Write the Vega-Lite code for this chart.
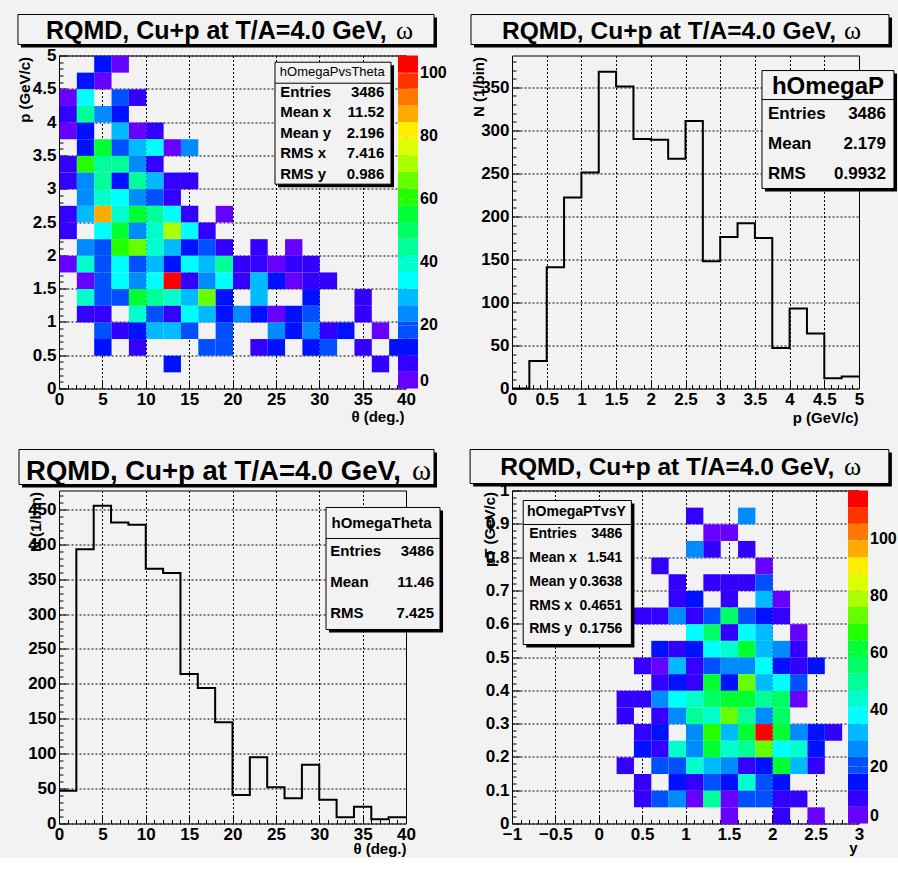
{
  "$schema": "https://vega.github.io/schema/vega-lite/v6.json",
  "background": "#f2f2f2",
  "padding": {"left": 16, "top": 12.5, "right": 0, "bottom": 0},
  "columns": 2,
  "spacing": {"row": 102, "column": 106},
  "bounds": "flush",
  "resolve": {"scale": {"color": "independent"}, "legend": {"color": "independent"}},
  "datasets": {
    "tl": [
      {"th":4,"pp":4.75,"c":13},{"th":6,"pp":4.75,"c":3},
      {"th":2,"pp":4.5,"c":13},{"th":4,"pp":4.5,"c":3},
      {"th":0,"pp":4.25,"c":3},{"th":2,"pp":4.25,"c":34},{"th":6,"pp":4.25,"c":18},{"th":8,"pp":4.25,"c":8},
      {"th":0,"pp":4,"c":8},{"th":2,"pp":4,"c":45},{"th":4,"pp":4,"c":24},{"th":6,"pp":4,"c":13},
      {"th":0,"pp":3.75,"c":3},{"th":2,"pp":3.75,"c":13},{"th":6,"pp":3.75,"c":29},{"th":8,"pp":3.75,"c":3},{"th":10,"pp":3.75,"c":8},
      {"th":2,"pp":3.5,"c":13},{"th":4,"pp":3.5,"c":55},{"th":6,"pp":3.5,"c":18},{"th":8,"pp":3.5,"c":29},{"th":10,"pp":3.5,"c":34},{"th":12,"pp":3.5,"c":3},{"th":14,"pp":3.5,"c":24},
      {"th":0,"pp":3.25,"c":8},{"th":2,"pp":3.25,"c":61},{"th":4,"pp":3.25,"c":45},{"th":6,"pp":3.25,"c":45},{"th":8,"pp":3.25,"c":24},{"th":10,"pp":3.25,"c":8},
      {"th":0,"pp":3,"c":8},{"th":2,"pp":3,"c":24},{"th":4,"pp":3,"c":45},{"th":6,"pp":3,"c":13},{"th":8,"pp":3,"c":45},{"th":10,"pp":3,"c":29},{"th":12,"pp":3,"c":8},{"th":14,"pp":3,"c":8},
      {"th":2,"pp":2.75,"c":24},{"th":4,"pp":2.75,"c":40},{"th":6,"pp":2.75,"c":34},{"th":8,"pp":2.75,"c":24},{"th":10,"pp":2.75,"c":18},{"th":12,"pp":2.75,"c":8},
      {"th":0,"pp":2.5,"c":8},{"th":2,"pp":2.5,"c":29},{"th":4,"pp":2.5,"c":87},{"th":6,"pp":2.5,"c":40},{"th":8,"pp":2.5,"c":55},{"th":10,"pp":2.5,"c":45},{"th":12,"pp":2.5,"c":34},{"th":14,"pp":2.5,"c":8},{"th":18,"pp":2.5,"c":3},
      {"th":0,"pp":2.25,"c":8},{"th":4,"pp":2.25,"c":34},{"th":6,"pp":2.25,"c":55},{"th":8,"pp":2.25,"c":24},{"th":10,"pp":2.25,"c":40},{"th":12,"pp":2.25,"c":71},{"th":14,"pp":2.25,"c":34},{"th":16,"pp":2.25,"c":8},
      {"th":2,"pp":2,"c":24},{"th":4,"pp":2,"c":18},{"th":6,"pp":2,"c":61},{"th":8,"pp":2,"c":66},{"th":10,"pp":2,"c":40},{"th":12,"pp":2,"c":29},{"th":14,"pp":2,"c":13},{"th":16,"pp":2,"c":18},{"th":18,"pp":2,"c":8},{"th":22,"pp":2,"c":8},{"th":26,"pp":2,"c":3},
      {"th":0,"pp":1.75,"c":3},{"th":2,"pp":1.75,"c":40},{"th":4,"pp":1.75,"c":18},{"th":6,"pp":1.75,"c":34},{"th":8,"pp":1.75,"c":18},{"th":10,"pp":1.75,"c":29},{"th":12,"pp":1.75,"c":13},{"th":14,"pp":1.75,"c":34},{"th":16,"pp":1.75,"c":29},{"th":18,"pp":1.75,"c":45},{"th":20,"pp":1.75,"c":8},{"th":22,"pp":1.75,"c":8},{"th":24,"pp":1.75,"c":3},{"th":26,"pp":1.75,"c":8},{"th":28,"pp":1.75,"c":8},
      {"th":2,"pp":1.5,"c":3},{"th":4,"pp":1.5,"c":18},{"th":6,"pp":1.5,"c":34},{"th":8,"pp":1.5,"c":24},{"th":10,"pp":1.5,"c":34},{"th":12,"pp":1.5,"c":105},{"th":14,"pp":1.5,"c":8},{"th":16,"pp":1.5,"c":24},{"th":18,"pp":1.5,"c":34},{"th":20,"pp":1.5,"c":8},{"th":22,"pp":1.5,"c":29},{"th":24,"pp":1.5,"c":13},{"th":26,"pp":1.5,"c":3},{"th":28,"pp":1.5,"c":8},{"th":30,"pp":1.5,"c":8},
      {"th":2,"pp":1.25,"c":40},{"th":4,"pp":1.25,"c":18},{"th":6,"pp":1.25,"c":18},{"th":8,"pp":1.25,"c":55},{"th":10,"pp":1.25,"c":45},{"th":12,"pp":1.25,"c":40},{"th":14,"pp":1.25,"c":29},{"th":16,"pp":1.25,"c":66},{"th":18,"pp":1.25,"c":13},{"th":22,"pp":1.25,"c":29},{"th":28,"pp":1.25,"c":13},{"th":34,"pp":1.25,"c":8},
      {"th":2,"pp":1,"c":8},{"th":4,"pp":1,"c":8},{"th":8,"pp":1,"c":40},{"th":10,"pp":1,"c":18},{"th":12,"pp":1,"c":8},{"th":14,"pp":1,"c":34},{"th":16,"pp":1,"c":29},{"th":18,"pp":1,"c":13},{"th":20,"pp":1,"c":24},{"th":22,"pp":1,"c":13},{"th":24,"pp":1,"c":3},{"th":26,"pp":1,"c":13},{"th":28,"pp":1,"c":18},{"th":34,"pp":1,"c":8},
      {"th":4,"pp":0.75,"c":18},{"th":6,"pp":0.75,"c":8},{"th":8,"pp":0.75,"c":13},{"th":10,"pp":0.75,"c":29},{"th":12,"pp":0.75,"c":29},{"th":14,"pp":0.75,"c":18},{"th":18,"pp":0.75,"c":18},{"th":24,"pp":0.75,"c":24},{"th":26,"pp":0.75,"c":13},{"th":28,"pp":0.75,"c":24},{"th":30,"pp":0.75,"c":8},{"th":32,"pp":0.75,"c":13},{"th":36,"pp":0.75,"c":3},
      {"th":4,"pp":0.5,"c":13},{"th":8,"pp":0.5,"c":8},{"th":16,"pp":0.5,"c":18},{"th":18,"pp":0.5,"c":18},{"th":22,"pp":0.5,"c":8},{"th":24,"pp":0.5,"c":13},{"th":28,"pp":0.5,"c":13},{"th":30,"pp":0.5,"c":18},{"th":34,"pp":0.5,"c":8},{"th":38,"pp":0.5,"c":13},
      {"th":12,"pp":0.25,"c":13},{"th":36,"pp":0.25,"c":8}
    ],
    "tr": [
      {"pm":0,"cnt":0},{"pm":0.25,"cnt":32},{"pm":0.5,"cnt":141},{"pm":0.75,"cnt":222},{"pm":1,"cnt":251},{"pm":1.25,"cnt":368},{"pm":1.5,"cnt":351},{"pm":1.75,"cnt":290},{"pm":2,"cnt":289},{"pm":2.25,"cnt":267},{"pm":2.5,"cnt":311},{"pm":2.75,"cnt":148},{"pm":3,"cnt":176},{"pm":3.25,"cnt":192},{"pm":3.5,"cnt":175},{"pm":3.75,"cnt":47},{"pm":4,"cnt":93},{"pm":4.25,"cnt":64},{"pm":4.5,"cnt":12},{"pm":4.75,"cnt":14},{"pm":5,"cnt":14}
    ],
    "bl": [
      {"tt":0,"cnt":47},{"tt":2,"cnt":393},{"tt":4,"cnt":455},{"tt":6,"cnt":431},{"tt":8,"cnt":428},{"tt":10,"cnt":365},{"tt":12,"cnt":359},{"tt":14,"cnt":214},{"tt":16,"cnt":194},{"tt":18,"cnt":145},{"tt":20,"cnt":41},{"tt":22,"cnt":95},{"tt":24,"cnt":52},{"tt":26,"cnt":36},{"tt":28,"cnt":84},{"tt":30,"cnt":34},{"tt":32,"cnt":9},{"tt":34,"cnt":24},{"tt":36,"cnt":6},{"tt":38,"cnt":9},{"tt":40,"cnt":9}
    ],
    "br": [
      {"rap":1.0,"pt":0.9,"c2":9},{"rap":1.6,"pt":0.9,"c2":26},
      {"rap":1.2,"pt":0.85,"c2":3},{"rap":1.4,"pt":0.85,"c2":3},
      {"rap":1.0,"pt":0.8,"c2":26},{"rap":1.2,"pt":0.8,"c2":9},{"rap":1.6,"pt":0.8,"c2":9},
      {"rap":0.6,"pt":0.75,"c2":9},{"rap":1.8,"pt":0.75,"c2":3},
      {"rap":0.8,"pt":0.7,"c2":9},{"rap":1.2,"pt":0.7,"c2":9},{"rap":1.4,"pt":0.7,"c2":9},{"rap":1.6,"pt":0.7,"c2":9},{"rap":1.8,"pt":0.7,"c2":20},
      {"rap":0.8,"pt":0.65,"c2":9},{"rap":1.0,"pt":0.65,"c2":15},{"rap":1.4,"pt":0.65,"c2":9},{"rap":1.8,"pt":0.65,"c2":32},{"rap":2.0,"pt":0.65,"c2":3},
      {"rap":0.4,"pt":0.6,"c2":9},{"rap":0.6,"pt":0.6,"c2":9},{"rap":0.8,"pt":0.6,"c2":26},{"rap":1.0,"pt":0.6,"c2":9},{"rap":1.2,"pt":0.6,"c2":20},{"rap":1.4,"pt":0.6,"c2":56},{"rap":1.6,"pt":0.6,"c2":20},{"rap":1.8,"pt":0.6,"c2":15},{"rap":2.0,"pt":0.6,"c2":9},
      {"rap":1.0,"pt":0.55,"c2":38},{"rap":1.2,"pt":0.55,"c2":56},{"rap":1.4,"pt":0.55,"c2":9},{"rap":1.6,"pt":0.55,"c2":38},{"rap":1.8,"pt":0.55,"c2":32},{"rap":2.2,"pt":0.55,"c2":3},
      {"rap":0.6,"pt":0.5,"c2":15},{"rap":0.8,"pt":0.5,"c2":9},{"rap":1.0,"pt":0.5,"c2":15},{"rap":1.2,"pt":0.5,"c2":38},{"rap":1.4,"pt":0.5,"c2":44},{"rap":1.6,"pt":0.5,"c2":61},{"rap":1.8,"pt":0.5,"c2":32},{"rap":2.0,"pt":0.5,"c2":26},{"rap":2.2,"pt":0.5,"c2":9},
      {"rap":0.4,"pt":0.45,"c2":9},{"rap":0.6,"pt":0.45,"c2":3},{"rap":0.8,"pt":0.45,"c2":32},{"rap":1.0,"pt":0.45,"c2":9},{"rap":1.2,"pt":0.45,"c2":20},{"rap":1.4,"pt":0.45,"c2":26},{"rap":1.6,"pt":0.45,"c2":26},{"rap":1.8,"pt":0.45,"c2":38},{"rap":2.0,"pt":0.45,"c2":15},{"rap":2.2,"pt":0.45,"c2":9},{"rap":2.4,"pt":0.45,"c2":15},
      {"rap":0.6,"pt":0.4,"c2":9},{"rap":0.8,"pt":0.4,"c2":15},{"rap":1.0,"pt":0.4,"c2":9},{"rap":1.2,"pt":0.4,"c2":61},{"rap":1.4,"pt":0.4,"c2":15},{"rap":1.6,"pt":0.4,"c2":73},{"rap":1.8,"pt":0.4,"c2":32},{"rap":2.0,"pt":0.4,"c2":38},{"rap":2.2,"pt":0.4,"c2":20},
      {"rap":0.2,"pt":0.35,"c2":9},{"rap":0.4,"pt":0.35,"c2":9},{"rap":0.6,"pt":0.35,"c2":26},{"rap":0.8,"pt":0.35,"c2":38},{"rap":1.0,"pt":0.35,"c2":44},{"rap":1.2,"pt":0.35,"c2":56},{"rap":1.4,"pt":0.35,"c2":61},{"rap":1.6,"pt":0.35,"c2":61},{"rap":1.8,"pt":0.35,"c2":50},{"rap":2.0,"pt":0.35,"c2":56},{"rap":2.2,"pt":0.35,"c2":3},
      {"rap":0.2,"pt":0.3,"c2":9},{"rap":0.6,"pt":0.3,"c2":9},{"rap":0.8,"pt":0.3,"c2":26},{"rap":1.0,"pt":0.3,"c2":50},{"rap":1.2,"pt":0.3,"c2":44},{"rap":1.4,"pt":0.3,"c2":73},{"rap":1.6,"pt":0.3,"c2":50},{"rap":1.8,"pt":0.3,"c2":26},{"rap":2.0,"pt":0.3,"c2":56},
      {"rap":0.4,"pt":0.25,"c2":9},{"rap":0.6,"pt":0.25,"c2":15},{"rap":1.0,"pt":0.25,"c2":26},{"rap":1.2,"pt":0.25,"c2":67},{"rap":1.4,"pt":0.25,"c2":32},{"rap":1.6,"pt":0.25,"c2":61},{"rap":1.8,"pt":0.25,"c2":115},{"rap":2.0,"pt":0.25,"c2":61},{"rap":2.2,"pt":0.25,"c2":26},{"rap":2.4,"pt":0.25,"c2":15},{"rap":2.6,"pt":0.25,"c2":9},
      {"rap":0.4,"pt":0.2,"c2":15},{"rap":0.6,"pt":0.2,"c2":9},{"rap":0.8,"pt":0.2,"c2":44},{"rap":1.0,"pt":0.2,"c2":26},{"rap":1.2,"pt":0.2,"c2":61},{"rap":1.4,"pt":0.2,"c2":44},{"rap":1.6,"pt":0.2,"c2":50},{"rap":1.8,"pt":0.2,"c2":73},{"rap":2.0,"pt":0.2,"c2":38},{"rap":2.2,"pt":0.2,"c2":44},{"rap":2.4,"pt":0.2,"c2":15},
      {"rap":0.2,"pt":0.15,"c2":9},{"rap":0.6,"pt":0.15,"c2":20},{"rap":0.8,"pt":0.15,"c2":20},{"rap":1.0,"pt":0.15,"c2":44},{"rap":1.2,"pt":0.15,"c2":32},{"rap":1.4,"pt":0.15,"c2":26},{"rap":1.6,"pt":0.15,"c2":9},{"rap":1.8,"pt":0.15,"c2":15},{"rap":2.0,"pt":0.15,"c2":61},{"rap":2.2,"pt":0.15,"c2":32},{"rap":2.4,"pt":0.15,"c2":9},
      {"rap":0.4,"pt":0.1,"c2":9},{"rap":0.8,"pt":0.1,"c2":15},{"rap":1.0,"pt":0.1,"c2":9},{"rap":1.2,"pt":0.1,"c2":20},{"rap":1.4,"pt":0.1,"c2":15},{"rap":1.6,"pt":0.1,"c2":44},{"rap":1.8,"pt":0.1,"c2":20},{"rap":2.0,"pt":0.1,"c2":15},
      {"rap":0.4,"pt":0.05,"c2":9},{"rap":0.6,"pt":0.05,"c2":20},{"rap":0.8,"pt":0.05,"c2":26},{"rap":1.0,"pt":0.05,"c2":3},{"rap":1.2,"pt":0.05,"c2":50},{"rap":1.4,"pt":0.05,"c2":3},{"rap":1.6,"pt":0.05,"c2":20},{"rap":1.8,"pt":0.05,"c2":20},{"rap":2.0,"pt":0.05,"c2":9},{"rap":2.2,"pt":0.05,"c2":9},
      {"rap":1.4,"pt":0,"c2":3},{"rap":2.0,"pt":0,"c2":9},{"rap":2.4,"pt":0,"c2":3}
    ]
  },
  "concat": [
    {
      "width": 347, "height": 333,
      "layer": [
        {
          "data": {"name": "tl"},
          "mark": {"type": "rect"},
          "encoding": {
            "x": {"field": "th", "type": "quantitative", "bin": {"binned": true, "step": 2}, "title": "θ (deg.)",
              "scale": {"domain": [0, 40], "nice": false, "zero": false},
              "axis": {"values": [0,1,2,3,4,5,6,7,8,9,10,11,12,13,14,15,16,17,18,19,20,21,22,23,24,25,26,27,28,29,30,31,32,33,34,35,36,37,38,39,40],
                "tickCount": 500, "labelOverlap": false, "zindex": 0,
                "labelExpr": "datum.value % 5 === 0 ? format(datum.value, '~g') : ''",
                "tickSize": {"condition": {"test": "datum.value % 5 === 0", "value": -8}, "value": -4},
                "gridOpacity": {"condition": {"test": "datum.value % 5 === 0", "value": 1}, "value": 0},
                "labelPadding": 11, "titleX": 345, "titleY": 33}},
            "y": {"field": "pp", "type": "quantitative", "bin": {"binned": true, "step": 0.25}, "title": "p (GeV/c)",
              "scale": {"domain": [0, 5], "nice": false, "zero": false},
              "axis": {"values": [0,0.1,0.2,0.3,0.4,0.5,0.6,0.7,0.8,0.9,1,1.1,1.2,1.3,1.4,1.5,1.6,1.7,1.8,1.9,2,2.1,2.2,2.3,2.4,2.5,2.6,2.7,2.8,2.9,3,3.1,3.2,3.3,3.4,3.5,3.6,3.7,3.8,3.9,4,4.1,4.2,4.3,4.4,4.5,4.6,4.7,4.8,4.9,5],
                "tickCount": 500, "labelOverlap": false, "zindex": 0,
                "labelExpr": "abs(datum.value*2-round(datum.value*2)) < 1e-6 ? format(datum.value, '~g') : ''",
                "tickSize": {"condition": {"test": "abs(datum.value*2-round(datum.value*2)) < 1e-6", "value": -8}, "value": -4},
                "gridOpacity": {"condition": {"test": "abs(datum.value*2-round(datum.value*2)) < 1e-6", "value": 1}, "value": 0},
                "labelPadding": 11, "titleX": -29.5, "titleY": 1, "titleAngle": 270}},
            "color": {"field": "c", "type": "quantitative",
              "scale": {"type": "quantize", "domain": [0, 105.7], "nice": false, "zero": false,
                "range": ["#6600ff","#3300ff","#0011ff","#0050ff","#008cff","#00bbff","#00ffff","#00ffcc","#00ff99","#00ff66","#00ff33","#22ff00","#66ff00","#aaff00","#ddff00","#ffee00","#ffaa00","#ff7700","#ff3300","#ff0000"]},
              "legend": {"type": "gradient",
                "values": [-0.001,0,5.295,10.58,15.865,20,21.15,26.435,31.72,37.005,40,42.29,47.575,52.86,58.145,60,63.43,68.715,74.0,79.285,80,84.57,89.855,95.14,100,100.425],
                "labelExpr": "datum.value >= 0 && datum.value % 20 === 0 ? format(datum.value, 'd') : ''",
                "labelOverlap": false,
                "title": null, "orient": "right", "offset": -8, "padding": 0,
                "gradientLength": 333, "gradientThickness": 20, "gradientStrokeWidth": 0, "labelOffset": 2}}
          }
        },
        {"data": {"values": [{}]}, "mark": {"type": "rect", "fill": "#000000"},
          "encoding": {"x": {"datum": 25.25}, "x2": {"datum": 38.62}, "y": {"datum": 4.854}, "y2": {"datum": 3.023}}},
        {"data": {"values": [{}]}, "mark": {"type": "rect", "fill": "#f2f2f2", "stroke": "#000000", "strokeWidth": 1},
          "encoding": {"x": {"datum": 24.9}, "x2": {"datum": 38.27}, "y": {"datum": 4.899}, "y2": {"datum": 3.068}}},
        {"data": {"values": [{}]}, "mark": {"type": "rule", "color": "#000000", "strokeWidth": 1},
          "encoding": {"x": {"datum": 24.9}, "x2": {"datum": 38.27}, "y": {"datum": 4.584}}},
        {"data": {"values": [{}]}, "mark": {"type": "text", "text": "hOmegaPvsTheta", "align": "center", "baseline": "alphabetic", "fontSize": 13, "fontWeight": "normal"},
          "encoding": {"x": {"datum": 31.5}, "y": {"datum": 4.695}}},
        {"data": {"values": [{}]}, "mark": {"type": "text", "text": ["Entries", "Mean x", "Mean y", "RMS x", "RMS y"], "align": "left", "baseline": "alphabetic", "fontSize": 15, "fontWeight": "bold", "lineHeight": 20.6},
          "encoding": {"x": {"datum": 25.5}, "y": {"datum": 4.384}}},
        {"data": {"values": [{}]}, "mark": {"type": "text", "text": ["3486", "11.52", "2.196", "7.416", "0.986"], "align": "right", "baseline": "alphabetic", "fontSize": 15, "fontWeight": "bold", "lineHeight": 20.6},
          "encoding": {"x": {"datum": 37.5}, "y": {"datum": 4.384}}},
        {"data": {"values": [{}]}, "mark": {"type": "rect", "fill": "#000000"},
          "encoding": {"x": {"datum": -4.38}, "x2": {"datum": 43.57}, "y": {"datum": 5.571}, "y2": {"datum": 5.12}}},
        {"data": {"values": [{}]}, "mark": {"type": "rect", "fill": "#f2f2f2", "stroke": "#000000", "strokeWidth": 1},
          "encoding": {"x": {"datum": -4.73}, "x2": {"datum": 43.23}, "y": {"datum": 5.616}, "y2": {"datum": 5.165}}},
        {"data": {"values": [{}]}, "mark": {"type": "text", "text": "RQMD, Cu+p at T/A=4.0 GeV,", "align": "left", "baseline": "alphabetic", "fontSize": 25, "fontWeight": "bold"},
          "encoding": {"x": {"datum": -1.5}, "y": {"datum": 5.251}}},
        {"data": {"values": [{}]}, "mark": {"type": "text", "text": "ω", "align": "left", "baseline": "alphabetic", "fontSize": 26, "fontWeight": "normal", "font": "Liberation Serif"},
          "encoding": {"x": {"datum": 38.85}, "y": {"datum": 5.251}}}
      ]
    },
    {
      "width": 347, "height": 333,
      "layer": [
        {
          "data": {"name": "tr"},
          "mark": {"type": "line", "interpolate": "step-after", "color": "#000000", "strokeWidth": 2},
          "encoding": {
            "x": {"field": "pm", "type": "quantitative", "title": "p (GeV/c)",
              "scale": {"domain": [0, 5], "nice": false, "zero": false},
              "axis": {"values": [0,0.1,0.2,0.3,0.4,0.5,0.6,0.7,0.8,0.9,1,1.1,1.2,1.3,1.4,1.5,1.6,1.7,1.8,1.9,2,2.1,2.2,2.3,2.4,2.5,2.6,2.7,2.8,2.9,3,3.1,3.2,3.3,3.4,3.5,3.6,3.7,3.8,3.9,4,4.1,4.2,4.3,4.4,4.5,4.6,4.7,4.8,4.9,5],
                "tickCount": 500, "labelOverlap": false, "zindex": 0,
                "labelExpr": "abs(datum.value*2-round(datum.value*2)) < 1e-6 ? format(datum.value, '~g') : ''",
                "tickSize": {"condition": {"test": "abs(datum.value*2-round(datum.value*2)) < 1e-6", "value": -8}, "value": -4},
                "gridOpacity": {"condition": {"test": "abs(datum.value*2-round(datum.value*2)) < 1e-6", "value": 1}, "value": 0},
                "labelPadding": 11, "titleX": 346, "titleY": 34}},
            "y": {"field": "cnt", "type": "quantitative", "title": "N (1/bin)",
              "scale": {"domain": [0, 387], "nice": false, "zero": false},
              "axis": {"values": [0,10,20,30,40,50,60,70,80,90,100,110,120,130,140,150,160,170,180,190,200,210,220,230,240,250,260,270,280,290,300,310,320,330,340,350,360,370,380],
                "tickCount": 500, "labelOverlap": false, "zindex": 0,
                "labelExpr": "datum.value % 50 === 0 ? format(datum.value, '~g') : ''",
                "tickSize": {"condition": {"test": "datum.value % 50 === 0", "value": -8}, "value": -4},
                "gridOpacity": {"condition": {"test": "datum.value % 50 === 0", "value": 1}, "value": 0},
                "labelPadding": 11, "titleX": -29, "titleY": 1, "titleAngle": 270}}
          }
        },
        {"data": {"values": [{}]}, "mark": {"type": "rect", "fill": "#000000"},
          "encoding": {"x": {"datum": 3.646}, "x2": {"datum": 5.548}, "y": {"datum": 366.1}, "y2": {"datum": 228.9}}},
        {"data": {"values": [{}]}, "mark": {"type": "rect", "fill": "#f2f2f2", "stroke": "#000000", "strokeWidth": 1},
          "encoding": {"x": {"datum": 3.602}, "x2": {"datum": 5.504}, "y": {"datum": 369.5}, "y2": {"datum": 232.4}}},
        {"data": {"values": [{}]}, "mark": {"type": "rule", "color": "#000000", "strokeWidth": 1},
          "encoding": {"x": {"datum": 3.602}, "x2": {"datum": 5.504}, "y": {"datum": 335.8}}},
        {"data": {"values": [{}]}, "mark": {"type": "text", "text": "hOmegaP", "align": "center", "baseline": "alphabetic", "fontSize": 24, "fontWeight": "bold"},
          "encoding": {"x": {"datum": 4.553}, "y": {"datum": 342.8}}},
        {"data": {"values": [{}]}, "mark": {"type": "text", "text": ["Entries", "Mean", "RMS"], "align": "left", "baseline": "alphabetic", "fontSize": 17, "fontWeight": "bold", "lineHeight": 30},
          "encoding": {"x": {"datum": 3.689}, "y": {"datum": 313.4}}},
        {"data": {"values": [{}]}, "mark": {"type": "text", "text": ["3486", "2.179", "0.9932"], "align": "right", "baseline": "alphabetic", "fontSize": 17, "fontWeight": "bold", "lineHeight": 30},
          "encoding": {"x": {"datum": 5.389}, "y": {"datum": 313.4}}},
        {"data": {"values": [{}]}, "mark": {"type": "rect", "fill": "#000000"},
          "encoding": {"x": {"datum": -0.548}, "x2": {"datum": 5.476}, "y": {"datum": 431.1}, "y2": {"datum": 396.3}}},
        {"data": {"values": [{}]}, "mark": {"type": "rect", "fill": "#f2f2f2", "stroke": "#000000", "strokeWidth": 1},
          "encoding": {"x": {"datum": -0.591}, "x2": {"datum": 5.432}, "y": {"datum": 434.6}, "y2": {"datum": 399.8}}},
        {"data": {"values": [{}]}, "mark": {"type": "text", "text": "RQMD, Cu+p at T/A=4.0 GeV,", "align": "left", "baseline": "alphabetic", "fontSize": 24.5, "fontWeight": "bold"},
          "encoding": {"x": {"datum": -0.144}, "y": {"datum": 406.4}}},
        {"data": {"values": [{}]}, "mark": {"type": "text", "text": "ω", "align": "left", "baseline": "alphabetic", "fontSize": 26, "fontWeight": "normal", "font": "Liberation Serif"},
          "encoding": {"x": {"datum": 4.784}, "y": {"datum": 406.4}}}
      ]
    },
    {
      "width": 347, "height": 333,
      "layer": [
        {
          "data": {"name": "bl"},
          "mark": {"type": "line", "interpolate": "step-after", "color": "#000000", "strokeWidth": 2},
          "encoding": {
            "x": {"field": "tt", "type": "quantitative", "title": "θ (deg.)",
              "scale": {"domain": [0, 40], "nice": false, "zero": false},
              "axis": {"values": [0,1,2,3,4,5,6,7,8,9,10,11,12,13,14,15,16,17,18,19,20,21,22,23,24,25,26,27,28,29,30,31,32,33,34,35,36,37,38,39,40],
                "tickCount": 500, "labelOverlap": false, "zindex": 0,
                "labelExpr": "datum.value % 5 === 0 ? format(datum.value, '~g') : ''",
                "tickSize": {"condition": {"test": "datum.value % 5 === 0", "value": -8}, "value": -4},
                "gridOpacity": {"condition": {"test": "datum.value % 5 === 0", "value": 1}, "value": 0},
                "labelPadding": 11, "titleX": 347, "titleY": 30}},
            "y": {"field": "cnt", "type": "quantitative", "title": "N (1/bin)",
              "scale": {"domain": [0, 477], "nice": false, "zero": false},
              "axis": {"values": [0,10,20,30,40,50,60,70,80,90,100,110,120,130,140,150,160,170,180,190,200,210,220,230,240,250,260,270,280,290,300,310,320,330,340,350,360,370,380,390,400,410,420,430,440,450,460,470],
                "tickCount": 500, "labelOverlap": false, "zindex": 0,
                "labelExpr": "datum.value % 50 === 0 ? format(datum.value, '~g') : ''",
                "tickSize": {"condition": {"test": "datum.value % 50 === 0", "value": -8}, "value": -4},
                "gridOpacity": {"condition": {"test": "datum.value % 50 === 0", "value": 1}, "value": 0},
                "labelPadding": 11, "titleX": -19, "titleY": 1, "titleAngle": 270}}
          }
        },
        {"data": {"values": [{}]}, "mark": {"type": "rect", "fill": "#000000"},
          "encoding": {"x": {"datum": 31.12}, "x2": {"datum": 44.27}, "y": {"datum": 448.4}, "y2": {"datum": 273.6}}},
        {"data": {"values": [{}]}, "mark": {"type": "rect", "fill": "#f2f2f2", "stroke": "#000000", "strokeWidth": 1},
          "encoding": {"x": {"datum": 30.78}, "x2": {"datum": 43.92}, "y": {"datum": 452.7}, "y2": {"datum": 277.9}}},
        {"data": {"values": [{}]}, "mark": {"type": "rule", "color": "#000000", "strokeWidth": 1},
          "encoding": {"x": {"datum": 30.78}, "x2": {"datum": 43.92}, "y": {"datum": 408.3}}},
        {"data": {"values": [{}]}, "mark": {"type": "text", "text": "hOmegaTheta", "align": "center", "baseline": "alphabetic", "fontSize": 15, "fontWeight": "bold"},
          "encoding": {"x": {"datum": 37.18}, "y": {"datum": 424.0}}},
        {"data": {"values": [{}]}, "mark": {"type": "text", "text": ["Entries", "Mean", "RMS"], "align": "left", "baseline": "alphabetic", "fontSize": 15, "fontWeight": "bold", "lineHeight": 31},
          "encoding": {"x": {"datum": 31.27}, "y": {"datum": 382.5}}},
        {"data": {"values": [{}]}, "mark": {"type": "text", "text": ["3486", "11.46", "7.425"], "align": "right", "baseline": "alphabetic", "fontSize": 15, "fontWeight": "bold", "lineHeight": 31},
          "encoding": {"x": {"datum": 43.23}, "y": {"datum": 382.5}}},
        {"data": {"values": [{}]}, "mark": {"type": "rect", "fill": "#000000"},
          "encoding": {"x": {"datum": -4.265}, "x2": {"datum": 43.57}, "y": {"datum": 531.4}, "y2": {"datum": 481.3}}},
        {"data": {"values": [{}]}, "mark": {"type": "rect", "fill": "#f2f2f2", "stroke": "#000000", "strokeWidth": 1},
          "encoding": {"x": {"datum": -4.61}, "x2": {"datum": 43.23}, "y": {"datum": 535.7}, "y2": {"datum": 485.6}}},
        {"data": {"values": [{}]}, "mark": {"type": "text", "text": "RQMD, Cu+p at T/A=4.0 GeV,", "align": "left", "baseline": "alphabetic", "fontSize": 27.5, "fontWeight": "bold"},
          "encoding": {"x": {"datum": -3.8}, "y": {"datum": 492.3}}},
        {"data": {"values": [{}]}, "mark": {"type": "text", "text": "ω", "align": "left", "baseline": "alphabetic", "fontSize": 29, "fontWeight": "normal", "font": "Liberation Serif"},
          "encoding": {"x": {"datum": 40.69}, "y": {"datum": 492.3}}}
      ]
    },
    {
      "width": 347, "height": 333,
      "layer": [
        {
          "data": {"name": "br"},
          "mark": {"type": "rect"},
          "encoding": {
            "x": {"field": "rap", "type": "quantitative", "bin": {"binned": true, "step": 0.2}, "title": "y",
              "scale": {"domain": [-1, 3], "nice": false, "zero": false},
              "axis": {"values": [-1,-0.9,-0.8,-0.7,-0.6,-0.5,-0.4,-0.3,-0.2,-0.1,0,0.1,0.2,0.3,0.4,0.5,0.6,0.7,0.8,0.9,1,1.1,1.2,1.3,1.4,1.5,1.6,1.7,1.8,1.9,2,2.1,2.2,2.3,2.4,2.5,2.6,2.7,2.8,2.9,3],
                "tickCount": 500, "labelOverlap": false, "zindex": 0,
                "labelExpr": "abs(datum.value*2-round(datum.value*2)) < 1e-6 ? format(datum.value, '~g') : ''",
                "tickSize": {"condition": {"test": "abs(datum.value*2-round(datum.value*2)) < 1e-6", "value": -8}, "value": -4},
                "gridOpacity": {"condition": {"test": "abs(datum.value*2-round(datum.value*2)) < 1e-6", "value": 1}, "value": 0},
                "labelPadding": 11, "titleX": 345, "titleY": 29}},
            "y": {"field": "pt", "type": "quantitative", "bin": {"binned": true, "step": 0.05}, "title": "pT (GeV/c)",
              "scale": {"domain": [0, 1], "nice": false, "zero": false},
              "axis": {"values": [0,0.02,0.04,0.06,0.08,0.1,0.12,0.14,0.16,0.18,0.2,0.22,0.24,0.26,0.28,0.3,0.32,0.34,0.36,0.38,0.4,0.42,0.44,0.46,0.48,0.5,0.52,0.54,0.56,0.58,0.6,0.62,0.64,0.66,0.68,0.7,0.72,0.74,0.76,0.78,0.8,0.82,0.84,0.86,0.88,0.9,0.92,0.94,0.96,0.98,1],
                "tickCount": 500, "labelOverlap": false, "zindex": 0,
                "labelExpr": "abs(datum.value*10-round(datum.value*10)) < 1e-6 ? format(datum.value, '~g') : ''",
                "tickSize": {"condition": {"test": "abs(datum.value*10-round(datum.value*10)) < 1e-6", "value": -8}, "value": -4},
                "gridOpacity": {"condition": {"test": "abs(datum.value*10-round(datum.value*10)) < 1e-6", "value": 1}, "value": 0},
                "labelPadding": 11, "titleX": -18, "titleY": 1, "titleAngle": 270}},
            "color": {"field": "c2", "type": "quantitative",
              "scale": {"type": "quantize", "domain": [0, 117], "nice": false, "zero": false,
                "range": ["#6600ff","#3300ff","#0011ff","#0050ff","#008cff","#00bbff","#00ffff","#00ffcc","#00ff99","#00ff66","#00ff33","#22ff00","#66ff00","#aaff00","#ddff00","#ffee00","#ffaa00","#ff7700","#ff3300","#ff0000"]},
              "legend": {"type": "gradient",
                "values": [-0.001,0,5.86,11.71,17.56,20,23.41,29.26,35.11,40,40.96,46.81,52.66,58.51,60,64.36,70.21,76.06,80,81.91,87.76,93.61,99.46,100,105.31,111.16],
                "labelExpr": "datum.value >= 0 && datum.value % 20 === 0 ? format(datum.value, 'd') : ''",
                "labelOverlap": false,
                "title": null, "orient": "right", "offset": -11, "padding": 0,
                "gradientLength": 333, "gradientThickness": 20, "gradientStrokeWidth": 0, "labelOffset": 2}}
          }
        },
        {"data": {"values": [{}]}, "mark": {"type": "rect", "fill": "#000000"},
          "encoding": {"x": {"datum": -0.836}, "x2": {"datum": 0.411}, "y": {"datum": 0.961}, "y2": {"datum": 0.5285}}},
        {"data": {"values": [{}]}, "mark": {"type": "rect", "fill": "#f2f2f2", "stroke": "#000000", "strokeWidth": 1},
          "encoding": {"x": {"datum": -0.871}, "x2": {"datum": 0.376}, "y": {"datum": 0.970}, "y2": {"datum": 0.5375}}},
        {"data": {"values": [{}]}, "mark": {"type": "rule", "color": "#000000", "strokeWidth": 1},
          "encoding": {"x": {"datum": -0.871}, "x2": {"datum": 0.376}, "y": {"datum": 0.898}}},
        {"data": {"values": [{}]}, "mark": {"type": "text", "text": "hOmegaPTvsY", "align": "center", "baseline": "alphabetic", "fontSize": 14, "fontWeight": "bold"},
          "encoding": {"x": {"datum": -0.2575}, "y": {"datum": 0.922}}},
        {"data": {"values": [{}]}, "mark": {"type": "text", "text": ["Entries", "Mean x", "Mean y", "RMS x", "RMS y"], "align": "left", "baseline": "alphabetic", "fontSize": 14, "fontWeight": "bold", "lineHeight": 23.75},
          "encoding": {"x": {"datum": -0.8014}, "y": {"datum": 0.856}}},
        {"data": {"values": [{}]}, "mark": {"type": "text", "text": ["3486", "1.541", "0.3638", "0.4651", "0.1756"], "align": "right", "baseline": "alphabetic", "fontSize": 14, "fontWeight": "bold", "lineHeight": 23.75},
          "encoding": {"x": {"datum": 0.2725}, "y": {"datum": 0.856}}},
        {"data": {"values": [{}]}, "mark": {"type": "rect", "fill": "#000000"},
          "encoding": {"x": {"datum": -1.448}, "x2": {"datum": 3.379}, "y": {"datum": 1.114}, "y2": {"datum": 1.012}}},
        {"data": {"values": [{}]}, "mark": {"type": "rect", "fill": "#f2f2f2", "stroke": "#000000", "strokeWidth": 1},
          "encoding": {"x": {"datum": -1.483}, "x2": {"datum": 3.344}, "y": {"datum": 1.123}, "y2": {"datum": 1.021}}},
        {"data": {"values": [{}]}, "mark": {"type": "text", "text": "RQMD, Cu+p at T/A=4.0 GeV,", "align": "left", "baseline": "alphabetic", "fontSize": 24.5, "fontWeight": "bold"},
          "encoding": {"x": {"datum": -1.136}, "y": {"datum": 1.046}}},
        {"data": {"values": [{}]}, "mark": {"type": "text", "text": "ω", "align": "left", "baseline": "alphabetic", "fontSize": 26, "fontWeight": "normal", "font": "Liberation Serif"},
          "encoding": {"x": {"datum": 2.826}, "y": {"datum": 1.046}}}
      ]
    }
  ],
  "config": {
    "font": "Liberation Sans",
    "view": {"stroke": "#000000", "strokeWidth": 1, "fill": "#f2f2f2"},
    "axis": {"domain": false, "ticks": true, "tickColor": "#000000", "tickWidth": 1, "zindex": 0,
      "labelFont": "Liberation Sans", "labelFontSize": 17, "labelFontWeight": "bold", "labelColor": "#000000",
      "labelFlush": false, "labelOverlap": false,
      "grid": true, "gridColor": "#000000", "gridDash": [2, 2], "gridWidth": 1,
      "titleFont": "Liberation Sans", "titleFontSize": 15, "titleFontWeight": "bold", "titleColor": "#000000",
      "titleAlign": "right", "titleBaseline": "alphabetic"},
    "legend": {"labelFont": "Liberation Sans", "labelFontSize": 16, "labelFontWeight": "bold", "labelColor": "#000000", "labelOverlap": false},
    "text": {"font": "Liberation Sans", "color": "#000000"}
  }
}
